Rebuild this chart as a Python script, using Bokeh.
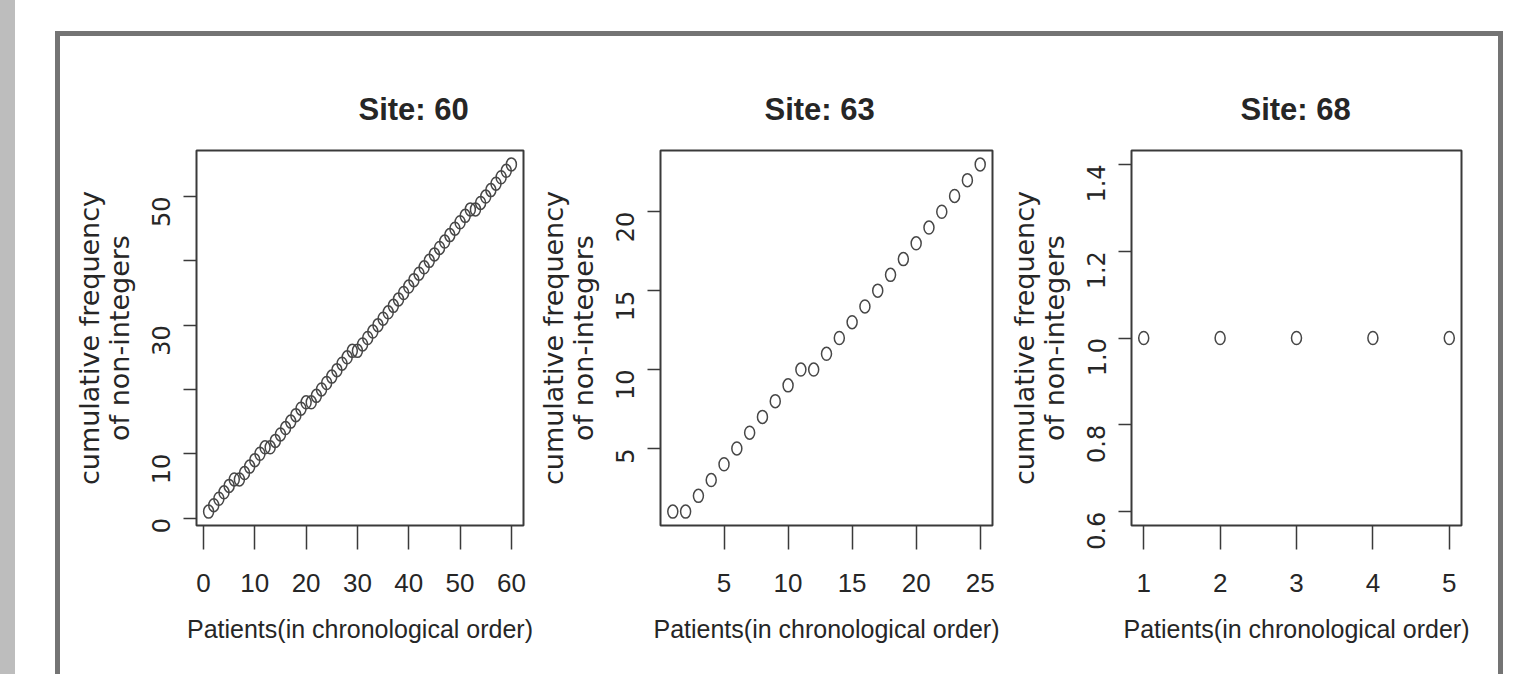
import math
from bokeh.plotting import figure
from bokeh.models import Range1d, FixedTicker, Div, Spacer
from bokeh.layouts import row, column
from bokeh.embed import file_html
from bokeh.resources import INLINE

# ---------------- data ----------------
site_titles = ["Site: 60", "Site: 63", "Site: 68"]

site60_patients = [1, 2, 3, 4, 5, 6, 7, 8, 9, 10,
                   11, 12, 13, 14, 15, 16, 17, 18, 19, 20,
                   21, 22, 23, 24, 25, 26, 27, 28, 29, 30,
                   31, 32, 33, 34, 35, 36, 37, 38, 39, 40,
                   41, 42, 43, 44, 45, 46, 47, 48, 49, 50,
                   51, 52, 53, 54, 55, 56, 57, 58, 59, 60]
site60_cumfreq = [1, 2, 3, 4, 5, 6, 6, 7, 8, 9,
                  10, 11, 11, 12, 13, 14, 15, 16, 17, 18,
                  18, 19, 20, 21, 22, 23, 24, 25, 26, 26,
                  27, 28, 29, 30, 31, 32, 33, 34, 35, 36,
                  37, 38, 39, 40, 41, 42, 43, 44, 45, 46,
                  47, 48, 48, 49, 50, 51, 52, 53, 54, 55]

site63_patients = [1, 2, 3, 4, 5, 6, 7, 8, 9, 10, 11, 12, 13,
                   14, 15, 16, 17, 18, 19, 20, 21, 22, 23, 24, 25]
site63_cumfreq = [1, 1, 2, 3, 4, 5, 6, 7, 8, 9, 10, 10, 11,
                  12, 13, 14, 15, 16, 17, 18, 19, 20, 21, 22, 23]

site68_patients = [1, 2, 3, 4, 5]
site68_cumfreq = [1, 1, 1, 1, 1]

site60_xticks = [0, 10, 20, 30, 40, 50, 60]
site60_yticks = [0, 10, 20, 30, 40, 50]
site60_ytick_labels = {0: "0", 10: "10", 20: "", 30: "30", 40: "", 50: "50"}
site63_xticks = [5, 10, 15, 20, 25]
site63_yticks = [5, 10, 15, 20]
site68_xticks = [1, 2, 3, 4, 5]
site68_yticks = [0.6, 0.8, 1.0, 1.2, 1.4]
site68_ytick_labels = {0.6: "0.6", 0.8: "0.8", 1.0: "1.0", 1.2: "1.2", 1.4: "1.4"}

x_label = "Patients(in chronological order)"
y_label = "cumulative frequency\nof non-integers"

# ---------------- style ----------------
HFONT = "Liberation Sans"
VFONT = "DejaVu Sans"
INK = "#3a3a3a"
TXT = "#262626"
FRAME_GREY = "#747474"


def r_range(vals):
    lo, hi = min(vals), max(vals)
    if lo == hi:
        lo, hi = lo - 0.4 * abs(lo), hi + 0.4 * abs(hi)
    pad = (hi - lo) * 0.04
    return Range1d(lo - pad, hi + pad)


def panel(title, xs, ys, xticks, yticks, ylabels, width, bl, br, toff):
    p = figure(width=width, height=638, output_backend="svg", toolbar_location=None,
               x_range=r_range(xs), y_range=r_range(ys),
               min_border_left=bl, min_border_right=br,
               min_border_top=114, min_border_bottom=149)
    p.title.text = title
    p.title.align = "left"
    p.title.offset = toff
    p.title.standoff = 48
    p.title.text_font = HFONT
    p.title.text_font_size = "31px"
    p.title.text_font_style = "bold"
    p.title.text_color = TXT

    p.grid.visible = False
    p.background_fill_color = "white"
    p.border_fill_color = "white"
    p.outline_line_color = INK
    p.outline_line_width = 2

    p.ellipse(xs, ys, width=10, height=13, width_units="screen", height_units="screen",
              fill_color=None, line_color="#474747", line_width=1.5)

    xa = p.xaxis[0]
    xa.ticker = FixedTicker(ticks=xticks)
    xa.axis_line_color = None
    xa.major_tick_line_color = INK
    xa.major_tick_line_width = 1.5
    xa.major_tick_in = 0
    xa.major_tick_out = 24
    xa.minor_tick_line_color = None
    xa.major_label_text_font = HFONT
    xa.major_label_text_font_size = "26px"
    xa.major_label_text_color = TXT
    xa.major_label_standoff = 24
    xa.axis_label = x_label
    xa.axis_label_text_font = HFONT
    xa.axis_label_text_font_size = "25px"
    xa.axis_label_text_font_style = "normal"
    xa.axis_label_text_color = TXT
    xa.axis_label_standoff = 20

    ya = p.yaxis[0]
    ya.ticker = FixedTicker(ticks=yticks)
    if ylabels:
        ya.major_label_overrides = ylabels
    ya.axis_line_color = None
    ya.major_tick_line_color = INK
    ya.major_tick_line_width = 1.5
    ya.major_tick_in = 0
    ya.major_tick_out = 13
    ya.minor_tick_line_color = None
    ya.major_label_orientation = math.pi / 2
    ya.major_label_text_font = VFONT
    ya.major_label_text_font_size = "24px"
    ya.major_label_text_color = TXT
    ya.major_label_standoff = 22
    ya.axis_label = y_label
    ya.axis_label_text_font = VFONT
    ya.axis_label_text_font_size = "27px"
    ya.axis_label_text_line_height = 0.95
    ya.axis_label_text_font_style = "normal"
    ya.axis_label_text_color = TXT
    ya.axis_label_standoff = 6
    return p


p1 = panel(site_titles[0], site60_patients, site60_cumfreq, site60_xticks, site60_yticks,
           site60_ytick_labels, 475, 136, 12, 162)
p2 = panel(site_titles[1], site63_patients, site63_cumfreq, site63_xticks, site63_yticks,
           None, 470, 124, 13, 104)
p3 = panel(site_titles[2], site68_patients, site68_cumfreq, site68_xticks, site68_yticks,
           site68_ytick_labels, 493, 126, 37, 109)

strip = Div(width=15, height=674, margin=0, styles={"background-color": "#bdbdbd"})
gap = Spacer(width=40, height=674, margin=0)
top_line = Div(width=1448, height=5, margin=0, styles={"background-color": FRAME_GREY})
left_line = Div(width=5, height=638, margin=0, styles={"background-color": FRAME_GREY})
right_line = Div(width=5, height=638, margin=0, styles={"background-color": FRAME_GREY})

framed = column(Spacer(width=1448, height=31, margin=0), top_line,
                row(left_line, p1, p2, p3, right_line))
layout = row(strip, gap, framed)

html = file_html(layout, INLINE)
html = html.replace("</head>", "<style>html, body { margin: 0; padding: 0; }</style></head>", 1)
open("out.html", "w").write(html)
